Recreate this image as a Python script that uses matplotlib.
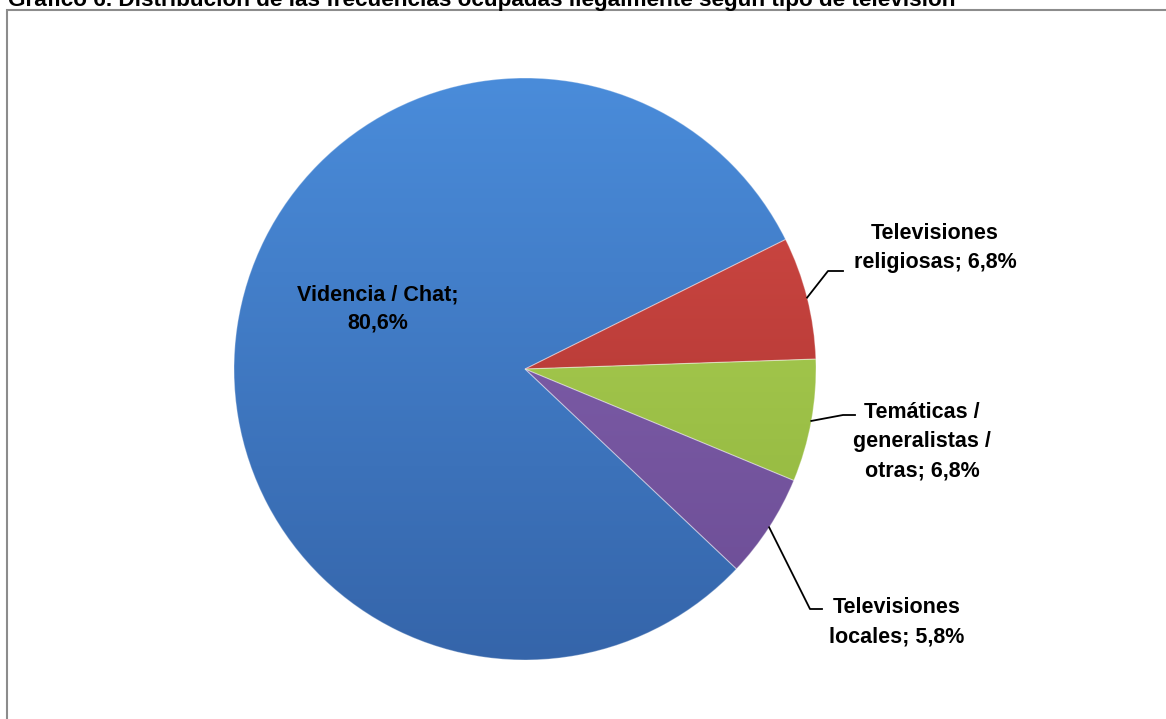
import numpy as np
import matplotlib
matplotlib.use("Agg")
import matplotlib.pyplot as plt
from matplotlib.colors import LinearSegmentedColormap

# datos del gráfico
categorias = ["Videncia / Chat", "Televisiones\nreligiosas", "Temáticas /\ngeneralistas /\notras",
              "Televisiones\nlocales"]
valores = [80.6, 6.8, 6.8, 5.8]
colores_claros = ["#4A8CDA", "#D64C47", "#B2D65A", "#8766B3"]
colores_oscuros = ["#3565AA", "#A32F2C", "#8DB13A", "#6B4C94"]
titulo = "Gráfico 6. Distribución de las frecuencias ocupadas ilegalmente según tipo de televisión"

W, H = 1166, 719
CX, CY, R = 525, 369, 291


def px(x, y):
    # pixeles de la imagen -> coordenadas del eje
    return (x - CX) / R, (CY - y) / R


plt.rcParams['font.family'] = ['Liberation Sans', 'DejaVu Sans']
fig = plt.figure(figsize=(W / 100, H / 100), dpi=100)

# marco del gráfico
fig.add_artist(plt.Rectangle((7 / W, -0.01), 1.0, 1 - 9.5 / H + 0.01, transform=fig.transFigure,
                             fill=False, edgecolor="#8C8C8C", linewidth=1.5))
# el título aparece recortado por arriba, como en el original
fig.text(8 / W, 1 - 6 / H, titulo, fontsize=16.2, fontweight="bold", va="baseline", ha="left")

ax = fig.add_axes([(CX - R) / W, (H - CY - R) / H, 2 * R / W, 2 * R / H])
wedges, _ = ax.pie(valores, startangle=-43.4, counterclock=False, radius=1,
                   colors=colores_claros, wedgeprops=dict(linewidth=0))

# degradado dentro de cada porción
grad = np.linspace(0, 1, 256).reshape(-1, 1)
for w, c1, c2 in zip(wedges, colores_claros, colores_oscuros):
    cmap = LinearSegmentedColormap.from_list("g", [c1, c2])
    im = ax.imshow(grad, cmap=cmap, extent=[-1, 1, -1, 1], origin="upper", aspect="auto", zorder=2)
    im.set_clip_path(w)
    w.set_edgecolor((1, 1, 1, 0.3))
    w.set_linewidth(0.8)
    w.set_zorder(3)
    w.set_facecolor("none")

ax.set_xlim(-1, 1)
ax.set_ylim(-1, 1)
ax.axis("off")

# etiquetas
fs = 15.5
ls = 1.5
ax.text(*px(378, 309), f"{categorias[0]};\n{valores[0]:.1f}%".replace(".", ","), ha="center",
        va="center", fontsize=fs, fontweight="bold", linespacing=ls, zorder=5)

etiquetas_pos = [(935, 248), (922, 442), (897, 622)]
codos = [(828, 271, 843), (843, 415, 855), (810, 609, 822)]
for i in range(1, 4):
    w = wedges[i]
    ang = np.deg2rad((w.theta1 + w.theta2) / 2)
    x0, y0 = np.cos(ang), np.sin(ang)
    ex, ey = px(codos[i - 1][0], codos[i - 1][1])
    hx, _ = px(codos[i - 1][2], 0)
    ax.plot([x0, ex, hx], [y0, ey, ey], color="black", linewidth=1.3, clip_on=False, zorder=5)
    ax.text(*px(*etiquetas_pos[i - 1]), f"{categorias[i]}; {valores[i]:.1f}%".replace(".", ","),
            ha="center", va="center", fontsize=fs, fontweight="bold", linespacing=ls)

fig.savefig("out.png", dpi=100)
